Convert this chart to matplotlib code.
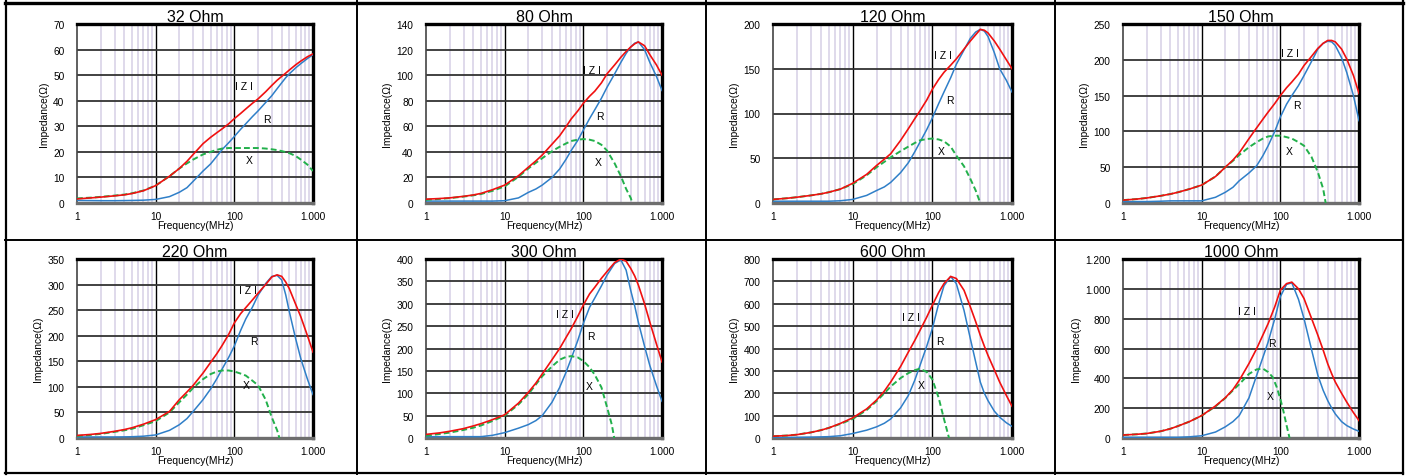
import numpy as np
import matplotlib
matplotlib.use("Agg")
import matplotlib.pyplot as plt
from matplotlib.lines import Line2D
from matplotlib.ticker import FixedLocator, FuncFormatter, NullFormatter

plt.rcParams["font.family"] = ["Liberation Sans", "DejaVu Sans"]

# frequency grid (MHz) shared by |Z| and R curves
FREQ = [1, 1.5, 2, 3, 4, 5, 7, 10, 15, 20, 25, 30, 40, 50, 60, 70, 85, 100,
        120, 140, 170, 200, 250, 300, 350, 400, 450, 500, 600, 700, 850, 1000]

TITLES = ["32 Ohm", "80 Ohm", "120 Ohm", "150 Ohm", "220 Ohm", "300 Ohm", "600 Ohm", "1000 Ohm"]
YMAX = [70, 140, 200, 250, 350, 400, 800, 1200]
YSTEP = [10, 20, 50, 50, 50, 50, 100, 200]

# |Z|
Z_32 = [1.6, 2.0, 2.3, 2.8, 3.2, 3.7, 4.8, 6.8, 10.5, 13.5, 16.3, 19.0, 23.2, 25.7, 27.5, 29.0,
        31.0, 33.0, 35.0, 36.8, 39.0, 40.7, 43.5, 46.0, 48.0, 49.5, 50.8, 52.0, 54.0, 55.5, 57.2, 58.3]
Z_80 = [3, 3.5, 4, 5.2, 6.3, 7.5, 10.4, 14, 21.4, 28, 33, 37.5, 46, 52.6, 59.5, 65.7,
        72, 78, 83.5, 87.5, 94, 101, 108, 114, 118.5, 122, 124.5, 126, 123, 116, 108, 100]
Z_120 = [4, 5.3, 6.5, 8.5, 10.2, 12, 15.5, 22, 32, 42, 49, 55, 70, 83, 94, 103,
         115, 127, 138, 146, 154, 161, 172, 181, 188, 194, 193, 190, 181, 172, 160, 150]
Z_150 = [4, 5.5, 7, 10, 12.5, 15, 19.5, 25, 37, 50, 60, 70, 90, 105, 117, 127,
         139, 150, 161, 169, 180, 192, 205, 216, 223, 227, 227, 225, 215, 201, 178, 153]
Z_220 = [5, 7, 9, 13, 16.5, 20, 27, 36, 52, 75, 90, 103, 127, 148, 165, 181,
         203, 225, 243, 255, 270, 283, 300, 315, 319, 316, 305, 292, 262, 237, 200, 168]
Z_300 = [8, 11.5, 15, 21, 27, 32, 41, 52, 78, 102, 123, 143, 175, 200, 224, 244,
         272, 297, 322, 337, 357, 372, 392, 400, 395, 379, 362, 342, 300, 259, 210, 170]
Z_600 = [8, 11, 15, 25, 35, 45, 65, 90, 130, 170, 210, 250, 320, 384, 435, 481,
         540, 593, 650, 690, 722, 713, 660, 586, 520, 459, 410, 369, 305, 250, 190, 142]
Z_1000 = [20, 25, 30, 45, 62, 80, 110, 150, 215, 270, 325, 386, 500, 599, 690, 767,
          880, 991, 1035, 1045, 1000, 935, 800, 689, 590, 498, 430, 375, 300, 240, 170, 117]

# R
R_32 = [1.0, 0.95, 0.9, 0.9, 0.95, 1.0, 1.1, 1.4, 2.5, 4.2, 6.0, 8.5, 12.5, 15.3, 18.3, 20.9,
        23.6, 26.0, 28.8, 31.0, 33.8, 36.0, 39.3, 42.0, 44.7, 47.0, 49.0, 50.5, 52.8, 54.5, 56.5, 58.0]
R_80 = [1.5, 1.5, 1.5, 1.5, 1.5, 1.5, 1.5, 1.8, 4, 8.3, 11, 14, 20, 26.6, 34, 41,
        49, 57, 66, 73, 82, 90.5, 101, 110, 117, 122, 125, 126, 120, 110, 99, 88]
R_120 = [2, 2, 2, 2, 2, 2, 2.5, 4, 8.5, 14, 18, 23, 34, 45, 57, 68,
         82, 95, 111, 124, 140, 155, 171, 184, 191, 194, 192, 186, 168, 150, 137, 124]
R_150 = [2, 2, 2, 2.5, 3, 3, 3, 3, 8, 15, 22, 31, 42, 52, 66, 80,
         100, 120, 138, 150, 164, 178, 198, 215, 223, 226, 225, 220, 203, 182, 150, 115]
R_220 = [2, 2, 2, 2, 2.2, 2.5, 3.5, 6, 15, 26, 38, 52, 75, 96, 116, 135,
         158, 180, 210, 233, 256, 279, 302, 316, 318, 309, 280, 247, 195, 155, 115, 85]
R_300 = [3, 3, 3, 3, 3, 3, 6, 12, 22, 30, 39, 50, 80, 113, 146, 177,
         218, 256, 292, 313, 340, 364, 390, 398, 375, 330, 295, 259, 205, 162, 117, 82]
R_600 = [2, 2.5, 3, 4, 5, 6, 10, 20, 35, 50, 66, 85, 135, 190, 257, 324,
         410, 489, 600, 680, 722, 690, 570, 444, 340, 250, 200, 167, 120, 93, 68, 52]
R_1000 = [5, 5, 5, 5, 5, 5, 8, 15, 40, 75, 110, 150, 270, 420, 540, 644,
          800, 947, 1030, 1040, 930, 800, 590, 420, 320, 251, 200, 161, 110, 83, 60, 45]

# X (each has its own frequency points, ending where X reaches zero)
XF_32 = FREQ
X_32 = [1.8, 2.1, 2.4, 2.9, 3.3, 3.8, 4.9, 6.8, 10.5, 13.5, 15.5, 17.0, 19.0, 20.0, 20.8, 21.3,
        21.5, 21.5, 21.5, 21.5, 21.5, 21.5, 21.3, 21.0, 20.7, 20.3, 19.9, 19.5, 18.4, 17.0, 15.0, 12.5]
XF_80 = [1, 1.5, 2, 3, 4, 5, 7, 10, 15, 20, 25, 30, 40, 50, 60, 70, 85, 100,
         120, 140, 170, 200, 250, 300, 350, 400, 420]
X_80 = [2.5, 3.2, 3.8, 5, 6, 7, 9.5, 13, 20.5, 27, 31.5, 35, 40.5, 44, 46.5, 48.5, 49.5, 50,
        49.5, 48.5, 45.5, 41, 31, 21, 11, 4, 0]
XF_120 = [1, 1.5, 2, 3, 4, 5, 7, 10, 15, 20, 25, 30, 40, 50, 60, 70, 85, 100,
          120, 140, 170, 200, 250, 300, 350, 400]
X_120 = [4, 5.3, 6.5, 8.5, 10.2, 12, 15.5, 21, 31, 40, 46, 51, 58, 63, 67, 70, 71.5, 72,
         71, 69, 63, 53, 41, 27, 14, 0]
XF_150 = [1, 1.5, 2, 3, 4, 5, 7, 10, 15, 20, 25, 30, 40, 50, 60, 70, 85, 100,
          120, 140, 170, 200, 250, 300, 350, 377]
X_150 = [4, 5.5, 7, 10, 12.5, 15, 19.5, 25, 37, 50, 59, 67, 78, 85, 90, 93, 94, 94,
         92, 90, 85, 80, 64, 43, 20, 0]
XF_220 = [1, 1.5, 2, 3, 4, 5, 7, 10, 15, 20, 25, 30, 40, 50, 60, 70, 85, 100,
          120, 140, 170, 200, 250, 300, 350, 374]
X_220 = [4, 6, 8, 12, 15, 18, 25, 33, 50, 70, 85, 98, 115, 125, 130, 132, 132, 130,
         126, 122, 112, 103, 75, 40, 15, 0]
XF_300 = [1, 1.5, 2, 3, 4, 5, 7, 10, 15, 20, 25, 30, 40, 50, 60, 70, 85, 100,
          120, 140, 170, 200, 230, 247]
X_300 = [5, 9, 12, 18, 23, 28, 38, 50, 75, 98, 120, 138, 160, 175, 181, 183, 180, 172,
         158, 141, 113, 69, 30, 0]
XF_600 = [1, 1.5, 2, 3, 4, 5, 7, 10, 15, 20, 25, 30, 40, 50, 60, 70, 85, 100,
          120, 140, 162]
X_600 = [8, 11, 15, 25, 35, 45, 63, 85, 125, 165, 200, 230, 268, 290, 303, 310, 295, 262,
         180, 85, 0]
XF_1000 = [1, 1.5, 2, 3, 4, 5, 7, 10, 15, 20, 25, 30, 40, 50, 60, 70, 80, 90,
           100, 110, 120, 131]
X_1000 = [20, 25, 30, 45, 62, 80, 110, 150, 212, 268, 320, 360, 430, 460, 465, 442, 408, 341,
          262, 175, 85, 0]

# label positions (MHz, ohm) for "I Z I", "R", "X"
LBL_Z = [(134, 45.6), (130, 104), (135, 165), (134, 209), (148, 290), (58, 277), (54, 541), (38, 850)]
LBL_R = [(260, 33), (163, 68), (165, 115), (160, 137), (175, 190), (126, 227), (123, 432), (79, 640)]
LBL_X = [(156, 17), (155, 32), (129, 58), (129, 73), (140, 103), (120, 116), (72, 235), (75, 280)]

Z_ALL = [Z_32, Z_80, Z_120, Z_150, Z_220, Z_300, Z_600, Z_1000]
R_ALL = [R_32, R_80, R_120, R_150, R_220, R_300, R_600, R_1000]
XF_ALL = [XF_32, XF_80, XF_120, XF_150, XF_220, XF_300, XF_600, XF_1000]
X_ALL = [X_32, X_80, X_120, X_150, X_220, X_300, X_600, X_1000]

W, H = 1412, 477
fig = plt.figure(figsize=(W / 100, H / 100), dpi=100)

# axes boxes in pixels: left, right / top, bottom
lefts = [77, 426, 773, 1123]
rights = [313, 662, 1012, 1359]
tops = [25, 260]
bottoms = [204, 439]


def thousands(v, pos):
    return f"{int(v):,}".replace(",", ".")


minor = [m * 10 ** d for d in range(3) for m in range(2, 10)]

for i in range(8):
    row, col = divmod(i, 4)
    l, r = lefts[col], rights[col]
    t, b = tops[row], bottoms[row]
    ax = fig.add_axes([l / W, 1 - b / H, (r - l) / W, (b - t) / H])

    ax.set_xscale("log")
    ax.set_xlim(1, 1000)
    ax.set_ylim(0, YMAX[i])

    for m in minor:
        ax.axvline(m, color="#d6cfe6", lw=1.1, zorder=0)
    for m in (10, 100):
        ax.axvline(m, color="black", lw=1.0, zorder=1)
    yt = np.arange(0, YMAX[i] + 1, YSTEP[i])
    for v in yt[1:-1]:
        ax.axhline(v, color="#333333", lw=1.3, zorder=1)

    ax.plot(FREQ, R_ALL[i], color="#2f7fc8", lw=1.1, zorder=3)
    ax.plot(XF_ALL[i], X_ALL[i], color="#22b04b", lw=1.4, ls=(0, (3, 1.6)), zorder=3)
    ax.plot(FREQ, Z_ALL[i], color="#f01010", lw=1.2, zorder=4)

    ax.text(*LBL_Z[i], "I Z I", fontsize=7.5, ha="center", va="center", zorder=5)
    ax.text(*LBL_R[i], "R", fontsize=7.5, ha="center", va="center", zorder=5)
    ax.text(*LBL_X[i], "X", fontsize=7.5, ha="center", va="center", zorder=5)

    ax.xaxis.set_major_locator(FixedLocator([1, 10, 100, 1000]))
    ax.xaxis.set_minor_formatter(NullFormatter())
    ax.xaxis.set_major_formatter(FuncFormatter(thousands))
    ax.yaxis.set_major_locator(FixedLocator(yt))
    ax.yaxis.set_major_formatter(FuncFormatter(thousands))
    ax.tick_params(axis="both", which="both", length=0, labelsize=7.3)
    ax.tick_params(axis="y", pad=9)
    ax.tick_params(axis="x", pad=6)

    ax.spines["top"].set_color("black")
    ax.spines["top"].set_linewidth(2.4)
    ax.spines["right"].set_color("black")
    ax.spines["right"].set_linewidth(2.4)
    ax.spines["bottom"].set_color("#6e6e6e")
    ax.spines["bottom"].set_linewidth(2.4)
    ax.spines["left"].set_color("#444444")
    ax.spines["left"].set_linewidth(1.2)

    ax.set_title(TITLES[i], fontsize=11.5, pad=1)
    ax.set_xlabel("Frequency(MHz)", fontsize=7.4, labelpad=-1)
    ax.set_ylabel("Impedance(Ω)", fontsize=7.4, labelpad=3)


# panel frame
def fline(x0, y0, x1, y1, lw):
    fig.add_artist(Line2D([x0 / W, x1 / W], [1 - y0 / H, 1 - y1 / H], color="black", lw=lw))


fline(5, 3.5, 1403, 3.5, 2.4)
fline(6, 2, 6, 475, 1.6)
fline(1403, 2, 1403, 475, 1.6)
fline(5, 474, 1403, 474, 1.6)
fline(5, 240.5, 1403, 240.5, 1.4)
for xv in (357, 705.5, 1055):
    fline(xv, 2, xv, 475, 1.4)

fig.savefig("out.png", dpi=100)
